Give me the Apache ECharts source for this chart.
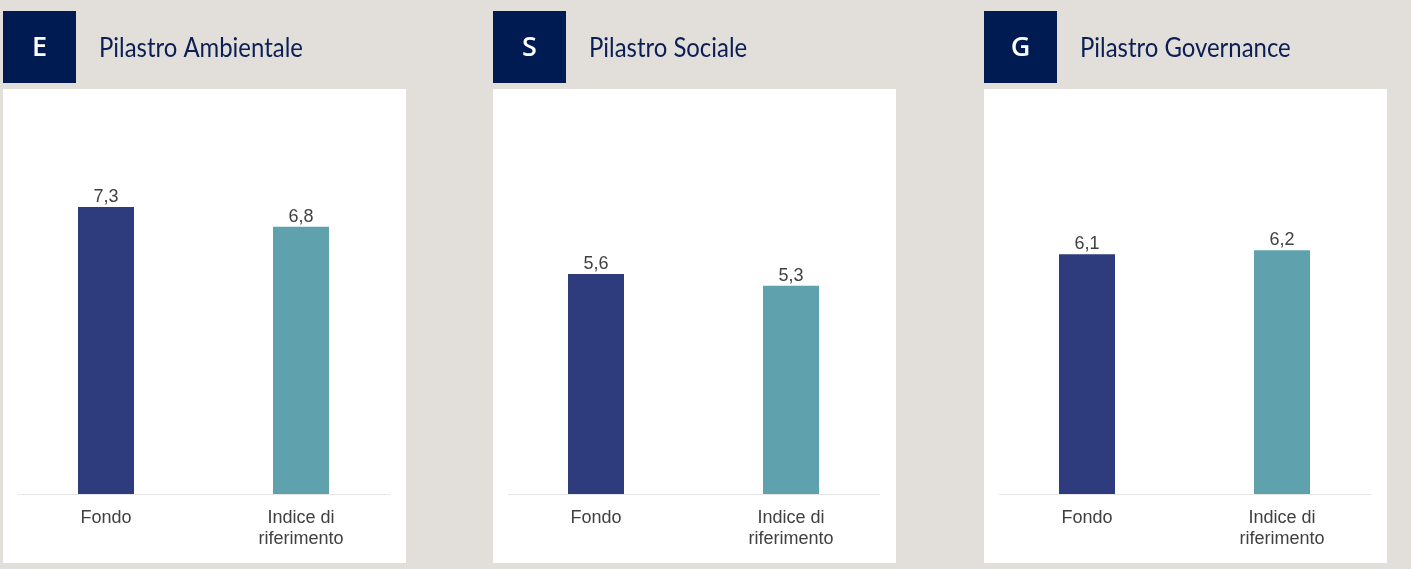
<!DOCTYPE html>
<html>
<head>
<meta charset="utf-8">
<script src="https://cdn.jsdelivr.net/npm/echarts@6/dist/echarts.min.js"></script>
<style>
  html, body { margin: 0; padding: 0; background: #e2dfda; }
  #chart { width: 1411px; height: 569px; }
</style>
</head>
<body>
<div id="chart"></div>
<script>
// data
const letters = ['E', 'S', 'G'];
const titles = ['Pilastro Ambientale', 'Pilastro Sociale', 'Pilastro Governance'];
const categories = ['Fondo', 'Indice di\nriferimento'];
const fondoValues = [7.3, 5.6, 6.1];
const indiceValues = [6.8, 5.3, 6.2];

// layout of the three panels
const panelLeft = [3, 493, 984];
const navy = '#001a52';
const barColors = ['#2e3c7e', '#5fa2ad'];

let chart = echarts.init(document.getElementById('chart'));

let grid = [], xAxis = [], yAxis = [], series = [], graphic = [];

panelLeft.forEach(function (x0, i) {
  // white card + header
  graphic.push({
    type: 'rect', z: -10, silent: true,
    shape: { x: x0, y: 89, width: 403, height: 474 },
    style: { fill: '#ffffff' }
  });
  graphic.push({
    type: 'rect', z: -10, silent: true,
    shape: { x: x0, y: 11, width: 73, height: 72 },
    style: { fill: navy }
  });
  graphic.push({
    type: 'text', silent: true,
    x: x0 + 36.5, y: 48,
    style: {
      text: letters[i], fill: '#ffffff',
      font: '600 27px "Open Sans"',
      align: 'center', verticalAlign: 'middle'
    }
  });
  // header font is narrower than Lato, so squeeze it a bit
  graphic.push({
    type: 'text', silent: true,
    x: x0 + 96, y: 49, scaleX: 0.92,
    style: {
      text: titles[i], fill: '#0b1f55',
      font: '26px Lato',
      align: 'left', verticalAlign: 'middle'
    }
  });

  // bar grid
  grid.push({ left: x0 + 5.5, width: 390, top: 101, bottom: 75 });
  xAxis.push({
    type: 'category', gridIndex: i, data: categories,
    axisLine: { show: false }, axisTick: { show: false },
    axisLabel: {
      margin: 14, fontSize: 18, lineHeight: 21,
      color: '#404040', fontFamily: '"Liberation Sans", Arial, sans-serif',
      align: 'center'
    }
  });
  yAxis.push({ type: 'value', gridIndex: i, min: 0, max: 10, show: false });
  series.push({
    type: 'bar', xAxisIndex: i, yAxisIndex: i, barWidth: 56,
    data: [
      { value: fondoValues[i], itemStyle: { color: barColors[0] } },
      { value: indiceValues[i], itemStyle: { color: barColors[1] } }
    ],
    label: {
      show: true, position: 'top', distance: 1,
      fontSize: 18, color: '#404040',
      fontFamily: '"Liberation Sans", Arial, sans-serif',
      formatter: function (p) { return p.value.toFixed(1).replace('.', ','); }
    }
  });
});

// baseline grids (the axis line is shorter than the bar grid)
panelLeft.forEach(function (x0, i) {
  grid.push({ left: x0 + 15, width: 372, top: 101, bottom: 75 });
  xAxis.push({
    type: 'category', gridIndex: 3 + i, data: ['', ''],
    axisLine: { lineStyle: { color: '#e6e6e6', width: 1 } },
    axisTick: { show: false }, axisLabel: { show: false }
  });
  yAxis.push({ type: 'value', gridIndex: 3 + i, min: 0, max: 10, show: false });
});

let option = {
  backgroundColor: '#e2dfda',
  animation: false,
  grid: grid,
  xAxis: xAxis,
  yAxis: yAxis,
  series: series,
  graphic: graphic
};
chart.setOption(option);
</script>
</body>
</html>
